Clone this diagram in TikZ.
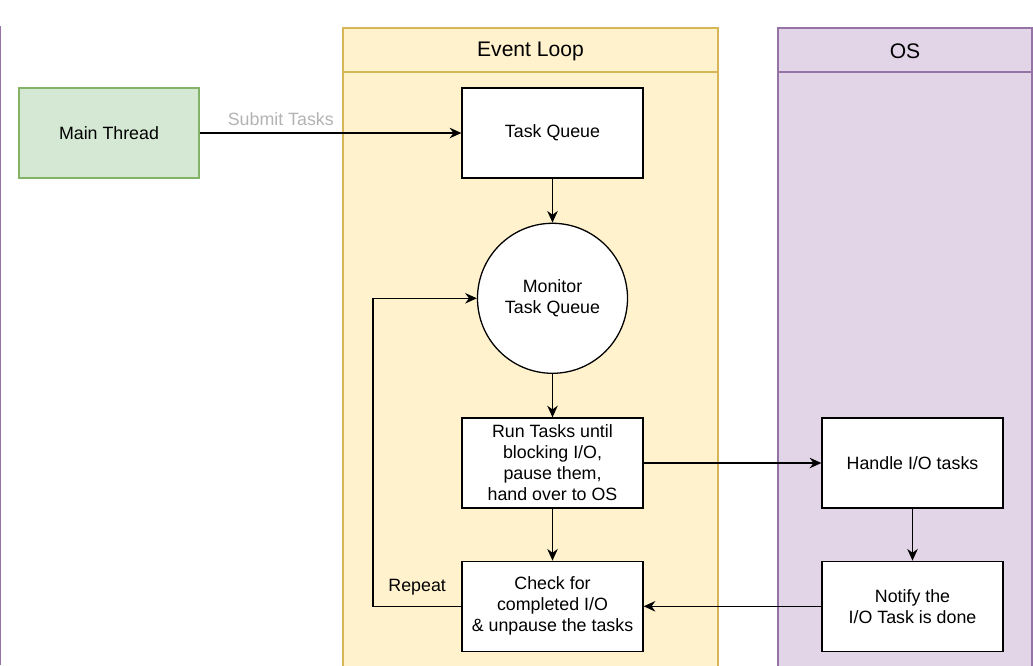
\documentclass[tikz,border=0pt]{standalone}
\usepackage{fontspec}
\setmainfont{Liberation Sans}
\usepackage{xcolor}
\usetikzlibrary{arrows.meta, positioning}
\definecolor{loopfill}{HTML}{FFF2CC}
\definecolor{loopdraw}{HTML}{D6B656}
\definecolor{osfill}{HTML}{E1D5E7}
\definecolor{osdraw}{HTML}{9673A6}
\definecolor{mainfill}{HTML}{D5E8D4}
\definecolor{maindraw}{HTML}{82B366}
\definecolor{labelgray}{HTML}{B3B3B3}
\tikzset{
    flowdiagram/.style={>={Stealth[length=10pt, width=9pt]}, line width=1.1pt, font=\fontsize{15.2}{17.9}\selectfont},
    block/.style={draw, fill=white, minimum width=5.43cm, minimum height=2.7cm, align=center, inner sep=0pt},
    monitor/.style={draw, fill=white, circle, minimum size=4.5cm, align=center, inner sep=0pt},
    lane/.style={line width=1.1pt},
    lanetitle/.style={font=\fontsize{18}{21}\selectfont},
}

\begin{document}
\begin{tikzpicture}[flowdiagram, x=0.03cm, y=-0.03cm]
        \useasboundingbox (0,0) rectangle (1033,665);

        % swimlanes
        \draw[osdraw, lane] (0.5,26) -- (0.5,665);
        \filldraw[lane, fill=loopfill, draw=loopdraw] (343,28) rectangle (718,670);
        \draw[lane, loopdraw] (343,72) -- (718,72);
        \node[lanetitle] (looptitle) at (530.5,51) {Event Loop};
        \filldraw[lane, fill=osfill, draw=osdraw] (778,28) rectangle (1032,670);
        \draw[lane, osdraw] (778,72) -- (1032,72);
        \node[lanetitle] (ostitle) at (905,51) {OS};

        \node[block, fill=mainfill, draw=maindraw, minimum width=5.4cm] (main) at (109,133) {Main Thread};
        \node[block]                (queue)   at (552.5,133) {Task Queue};
        \node[monitor, below=1.32cm of queue] (mon) {Monitor\\Task Queue};
        \node[block]                (run)     at (552.5,463) {Run Tasks until\\blocking I/O,\\pause them,\\hand over to OS};
        \node[block, below=1.56cm of run] (check) {Check for\\completed I/O\\\& unpause the tasks};
        \node[block]                (handle)  at (912.5,463) {Handle I/O tasks};
        \node[block, below=1.56cm of handle] (notify) {Notify the\\I/O Task is done};
        \coordinate (back) at (373,0);

        \draw[->] (main) -- node[above=2pt, pos=0.31, text=labelgray] {Submit Tasks} (queue);
        \draw[->] (queue) -- (mon);
        \draw[->] (mon) -- (run);
        \draw[->] (run) -- (check);
        \draw[->] (run) -- (handle);
        \draw[->] (handle) -- (notify);
        \draw[->] (notify) -- (check);
        \draw[->] (check.west) -- node[above=0.2cm] {Repeat} (back |- check.west) -- (back |- mon.west) -- (mon.west);
    \end{tikzpicture}
\end{document}
